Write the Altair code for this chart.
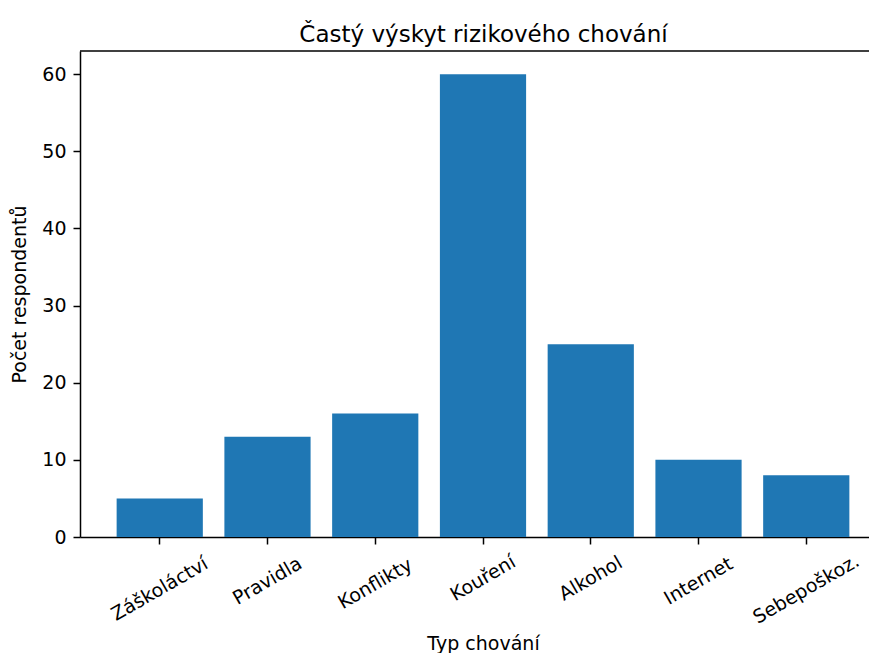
import altair as alt
import pandas as pd

FONT = "DejaVu Sans"

categories = ["Záškoláctví", "Pravidla", "Konflikty", "Kouření", "Alkohol", "Internet", "Sebepoškoz."]
values = [5, 13, 16, 60, 25, 10, 8]
y_ticks = [0, 10, 20, 30, 40, 50, 60]
chart_title = "Častý výskyt rizikového chování"

df = pd.DataFrame({"kategorie": categories, "pocet": values})

W, H = 789, 486

bars = alt.Chart(df).mark_bar(color="#1f77b4").encode(
    x=alt.X(
        "kategorie:N",
        sort=categories,
        scale=alt.Scale(range=[0, 806], paddingInner=0.2, paddingOuter=0.34),
        axis=alt.Axis(
            title="Typ chování",
            labelAngle=-30,
            labelAlign="center",
            labelBaseline="middle",
            # longer rotated labels hang lower, like matplotlib's centred rotation
            labelPadding={"expr": "15 + 2.7 * length(datum.label)"},
            labelOverlap=False,
            labelBound=False,
            labelFlush=False,
            tickSize=7,
            titleX=403,
            titleY=112,
            titleAlign="center",
            titleBaseline="alphabetic",
            grid=False,
        ),
    ),
    y=alt.Y(
        "pocet:Q",
        scale=alt.Scale(domain=[0, 63], nice=False, zero=True),
        axis=alt.Axis(
            title="Počet respondentů",
            values=y_ticks,
            tickSize=7,
            labelPadding=7,
            titleAngle=-90,
            titleX=-54.5,
            titleY=243,
            titleAlign="center",
            titleBaseline="alphabetic",
            grid=False,
        ),
    ),
)

top_spine = alt.Chart(pd.DataFrame({"a": [0]})).mark_rule(
    color="black", strokeWidth=1.5
).encode(x=alt.value(0), x2=alt.value(W), y=alt.value(0))

title_text = alt.Chart(pd.DataFrame({"t": [chart_title]})).mark_text(
    font=FONT, fontSize=23, color="black", align="center", baseline="alphabetic"
).encode(text="t:N", x=alt.value(403.5), y=alt.value(-9))

chart = (
    alt.layer(bars, top_spine, title_text)
    .properties(
        width=W,
        height=H,
        padding={"left": 72, "top": 43, "right": 0, "bottom": 116},
        autosize=alt.AutoSizeParams(type="none"),
    )
    .configure_view(stroke=None)
    .configure_axis(
        labelFont=FONT,
        titleFont=FONT,
        labelFontSize=19,
        titleFontSize=19,
        titleFontWeight="normal",
        labelColor="black",
        titleColor="black",
        tickColor="black",
        domainColor="black",
        tickWidth=1.5,
        domainWidth=1.5,
    )
)

chart.save("out.html", embed_options={"renderer": "svg", "actions": False})
